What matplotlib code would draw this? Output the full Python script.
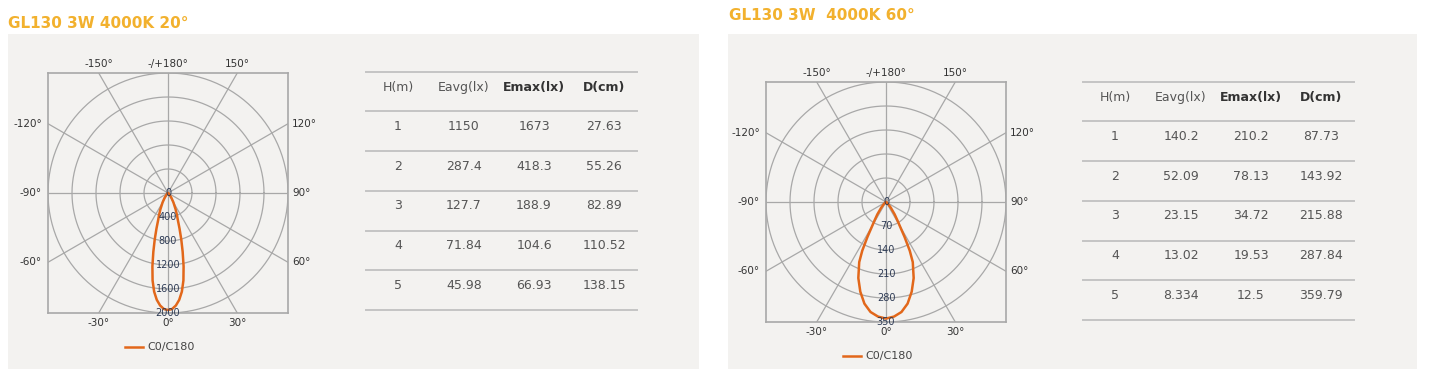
import numpy as np
import matplotlib.pyplot as plt
from matplotlib.patches import Rectangle

titles = ["GL130 3W 4000K 20°", "GL130 3W  4000K 60°"]

# C0/C180 curve, one half (symmetric), angle from nadir in deg, intensity in cd
angles_20 = [0, 2, 4, 6, 8, 10, 12, 14, 16, 18, 20, 22, 25, 30, 35, 40, 50, 60, 90]
cd_20 = [1950, 1935, 1880, 1790, 1660, 1480, 1250, 1010, 800, 620, 480, 400, 300, 180, 100, 50, 15, 5, 0]
angles_60 = [0, 4, 8, 12, 16, 20, 24, 26, 28, 30, 32, 35, 40, 45, 50, 60, 90]
cd_60 = [340, 335, 324, 303, 272, 236, 192, 158, 115, 80, 62, 44, 22, 10, 5, 2, 0]

ring_step_20 = 400
ring_max_20 = 2000
ring_step_60 = 70
ring_max_60 = 350

header = ["H(m)", "Eavg(lx)", "Emax(lx)", "D(cm)"]
height_m = ["1", "2", "3", "4", "5"]
eavg_20 = ["1150", "287.4", "127.7", "71.84", "45.98"]
emax_20 = ["1673", "418.3", "188.9", "104.6", "66.93"]
diam_20 = ["27.63", "55.26", "82.89", "110.52", "138.15"]
eavg_60 = ["140.2", "52.09", "23.15", "13.02", "8.334"]
emax_60 = ["210.2", "78.13", "34.72", "19.53", "12.5"]
diam_60 = ["87.73", "143.92", "215.88", "287.84", "359.79"]

W, H = 1431, 381
ORANGE = "#E2671A"
GOLD = "#F2B12E"
GRID = "#A8A8A8"
PANEL = "#F3F2F0"

fig = plt.figure(figsize=(W / 100, H / 100), dpi=100)
bg = fig.add_axes([0, 0, 1, 1])
bg.set_xlim(0, W)
bg.set_ylim(H, 0)
bg.axis("off")

# grey panels + titles
bg.add_patch(Rectangle((8, 33.5), 691, 335.5, color=PANEL, lw=0))
bg.add_patch(Rectangle((728, 33.5), 689, 335.5, color=PANEL, lw=0))
bg.text(8, 23.5, titles[0], color=GOLD, fontsize=11, fontweight="bold", va="center")
bg.text(729, 15.5, titles[1], color=GOLD, fontsize=11, fontweight="bold", va="center")


def polar_box(x0, y0, angles, cd, step, rmax):
    # square box, 240px, drawn in cartesian units of cd
    ax = fig.add_axes([x0 / W, 1 - (y0 + 240) / H, 240 / W, 240 / H])
    ax.set_facecolor("none")
    ax.set_xlim(-rmax, rmax)
    ax.set_ylim(-rmax, rmax)
    ax.set_xticks([])
    ax.set_yticks([])
    for s in ax.spines.values():
        s.set_color(GRID)
        s.set_linewidth(1.2)

    t = np.linspace(0, 2 * np.pi, 361)
    rings = np.arange(step, rmax + 1, step)
    for r in rings:
        ax.plot(r * np.cos(t), r * np.sin(t), color=GRID, lw=0.9)

    for a in range(0, 360, 30):
        th = np.radians(a)
        L = rmax / max(abs(np.sin(th)), abs(np.cos(th)))
        ax.plot([0, L * np.sin(th)], [0, -L * np.cos(th)], color=GRID, lw=0.9)

    # mirror the half curve
    a = np.array(angles, dtype=float)
    v = np.array(cd, dtype=float)
    th = np.radians(np.concatenate([-a[::-1], a[1:]]))
    rr = np.concatenate([v[::-1], v[1:]])
    ax.plot(rr * np.sin(th), -rr * np.cos(th), color=ORANGE, lw=1.8, solid_capstyle="round")

    # ring values down the 0 line
    ax.text(0, 0, "0", fontsize=7, color="#2E3B55", ha="center", va="center")
    for r in rings:
        ax.text(0, -r, str(r), fontsize=7, color="#2E3B55", ha="center", va="center")

    # angle labels outside the box
    u = rmax / 120.0
    tn = rmax * np.tan(np.radians(30))
    tc = rmax / np.tan(np.radians(60))
    kw = dict(fontsize=7.5, color="#333333", va="center")
    ax.text(0, rmax + 9 * u, "-/+180°", ha="center", **kw)
    ax.text(-tn, rmax + 9 * u, "-150°", ha="center", **kw)
    ax.text(tn, rmax + 9 * u, "150°", ha="center", **kw)
    ax.text(0, -rmax - 10 * u, "0°", ha="center", **kw)
    ax.text(-tn, -rmax - 10 * u, "-30°", ha="center", **kw)
    ax.text(tn, -rmax - 10 * u, "30°", ha="center", **kw)
    for lab, yy in [("120°", tc), ("90°", 0), ("60°", -tc)]:
        ax.text(rmax + 4 * u, yy, lab, ha="left", **kw)
        ax.text(-rmax - 6 * u, yy, "-" + lab, ha="right", **kw)

    # legend
    ly = -rmax - 34 * u
    ax.plot([-43 * u, -25 * u], [ly, ly], color=ORANGE, lw=1.8, clip_on=False)
    ax.text(-21 * u, ly, "C0/C180", fontsize=8, color="#444444", va="center")
    return ax


polar_box(48, 73, angles_20, cd_20, ring_step_20, ring_max_20)
polar_box(766, 82, angles_60, cd_60, ring_step_60, ring_max_60)


def table(x0, x1, ytop, cols_x, columns):
    step = 39.7
    for i in range(7):
        bg.plot([x0, x1], [ytop + i * step] * 2, color="#C4C4C4", lw=1.4)
    for j, h in enumerate(header):
        bold = j >= 2
        bg.text(cols_x[j], ytop + 16, h, ha="center", va="center", fontsize=9,
                color="#333333" if bold else "#555555",
                fontweight="bold" if bold else "normal")
    for i in range(5):
        for j, col in enumerate(columns):
            bg.text(cols_x[j], ytop + (i + 1) * step + 15, col[i], ha="center",
                    va="center", fontsize=9, color="#555555")


table(366, 637, 71.7, [398, 464, 534, 604], [height_m, eavg_20, emax_20, diam_20])
table(1083, 1354, 81.7, [1115, 1181, 1251, 1321], [height_m, eavg_60, emax_60, diam_60])

fig.savefig("out.png", dpi=100)
